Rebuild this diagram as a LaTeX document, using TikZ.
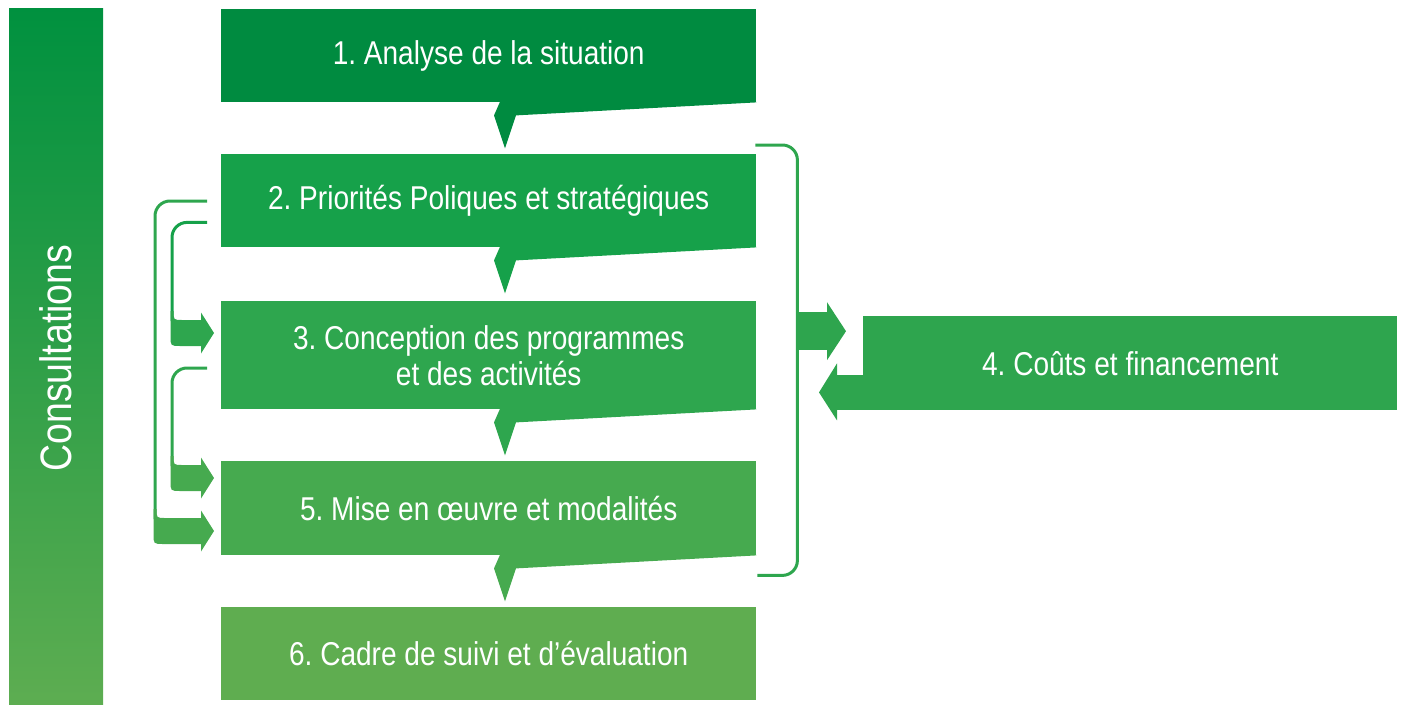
\documentclass[tikz,border=0pt]{standalone}
\usepackage{fontspec}
\setmainfont{Liberation Sans}[FakeStretch=0.85]
\usetikzlibrary{calc}
\frenchspacing
\definecolor{cA}{HTML}{008B40}
\definecolor{cB}{HTML}{16A14A}
\definecolor{cC}{HTML}{2EA64E}
\definecolor{cD}{HTML}{2EA54E}
\definecolor{cE}{HTML}{46AA4F}
\definecolor{cF}{HTML}{5FAD50}
\definecolor{barTop}{HTML}{00913F}
\definecolor{barBot}{HTML}{5DAD51}
\tikzset{
  stepbox/.style={rectangle, inner sep=0pt, text=white, align=center,
    font=\fontsize{33}{36}\selectfont, minimum width=535, minimum height=93, anchor=north west},
  bline/.style={line width=3pt, rounded corners=15pt},
}
% tail (speech pointer) under a box
\newcommand\boxtail[2]{%
  \fill[#2] ($(#1.south west)+(279,-0.6)$) -- ($(#1.south west)+(273,13)$)
    -- ($(#1.south west)+(284,46)$) -- ($(#1.south west)+(295,13)$)
    -- (#1.south east) -- ($(#1.south east)+(0,-0.6)$) -- cycle;}
% left arrow with fillet shaft: #1 tip, #2 vertical-line coordinate, #3 colour
\newcommand\myLarrow[3]{%
  \fill[#3] ($(#1 -| #2)+(-1.5,-22)$) -- ($(#1 -| #2)+(1.5,-22)$)
    .. controls ($(#1 -| #2)+(1.5,-13)$) .. ($(#1 -| #2)+(10.5,-13)$)
    -- ($(#1)+(-11,-13)$) -- ($(#1)+(-11,13)$) -- ($(#1 -| #2)+(8.5,13)$)
    .. controls ($(#1 -| #2)+(-1.5,13)$) .. ($(#1 -| #2)+(-1.5,3)$) -- cycle;
  \fill[#3] (#1) -- ($(#1)+(-13,-20.5)$) -- ($(#1)+(-13,20.5)$) -- cycle;}
\begin{document}
\begin{tikzpicture}[x=1pt,y=-1pt]
\useasboundingbox (0,0) rectangle (1402,704);
% consultations bar
\node[rectangle, inner sep=0pt, minimum width=94, minimum height=696, anchor=north west,
  top color=barTop, bottom color=barBot] (bar) at (9,8) {};
\node[rotate=90, text=white, inner sep=0pt, font=\fontsize{44}{48}\selectfont] (cons) at ($(bar.center)+(0,2)$) {Consultations};
% boxes
\node[stepbox, fill=cA] (b1) at (221,9) {1. Analyse de la situation};
\node[stepbox, fill=cB] (b2) at (221,154) {2. Priorités Poliques et stratégiques};
\node[stepbox, fill=cC, minimum height=108] (b3) at (221,301) {3. Conception des programmes\\et des activités};
\node[stepbox, fill=cE, minimum height=94] (b5) at (221,461) {5. Mise en œuvre et modalités};
\node[stepbox, fill=cF] (b6) at (221,607) {6. Cadre de suivi et d’évaluation};
\node[stepbox, fill=cD, minimum width=534, minimum height=94] (b4) at (863,316) {4. Coûts et financement};
% tails
\boxtail{b1}{cA}
\boxtail{b2}{cB}
\boxtail{b3}{cC}
\boxtail{b5}{cE}
% left brackets
\coordinate (sA) at ($(b2.north west)+(-14,47)$);
\coordinate (sB) at ($(b2.south west)+(-14,-25)$);
\coordinate (sC) at ($(b3.north west)+(-14,67)$);
\coordinate (tA) at ($(b5.north west)+(-7,70)$);
\coordinate (tB) at ($(b3.north west)+(-7,32)$);
\coordinate (tC) at ($(b5.north west)+(-7,17)$);
\coordinate (vA) at (155,0);
\coordinate (vB) at (172,0);
\draw[bline, cC] (sA) -- (sA -| vA) -- ($(tA -| vA)+(0,-12)$);
\draw[bline, cB] (sB) -- (sB -| vB) -- ($(tB -| vB)+(0,-12)$);
\draw[bline, cC] (sC) -- (sC -| vB) -- ($(tC -| vB)+(0,-12)$);
\myLarrow{tA}{vA}{cE}
\myLarrow{tB}{vB}{cC}
\myLarrow{tC}{vB}{cE}
% right bracket
\draw[bline, cC] ($(b2.north east)+(-1,-9)$) -- ($(b2.north east)+(41,-9)$)
  -- ($(b5.south east)+(41,20)$) -- ($(b5.south east)+(1,20)$);
\coordinate (tR) at ($(b4.west)+(-17,-32)$);
\fill[cD] ($(tR)+(-50,-19)$) rectangle ($(tR)+(-18,19)$);
\fill[cD] (tR) -- ($(tR)+(-19,-29)$) -- ($(tR)+(-19,29)$) -- cycle;
\coordinate (tL) at ($(b4.south west)+(-44,-18)$);
\fill[cD] ($(tL)+(17,-17)$) rectangle ($(tL)+(45,18)$);
\fill[cD] (tL) -- ($(tL)+(18,-29)$) -- ($(tL)+(18,28)$) -- cycle;
\end{tikzpicture}
\end{document}
